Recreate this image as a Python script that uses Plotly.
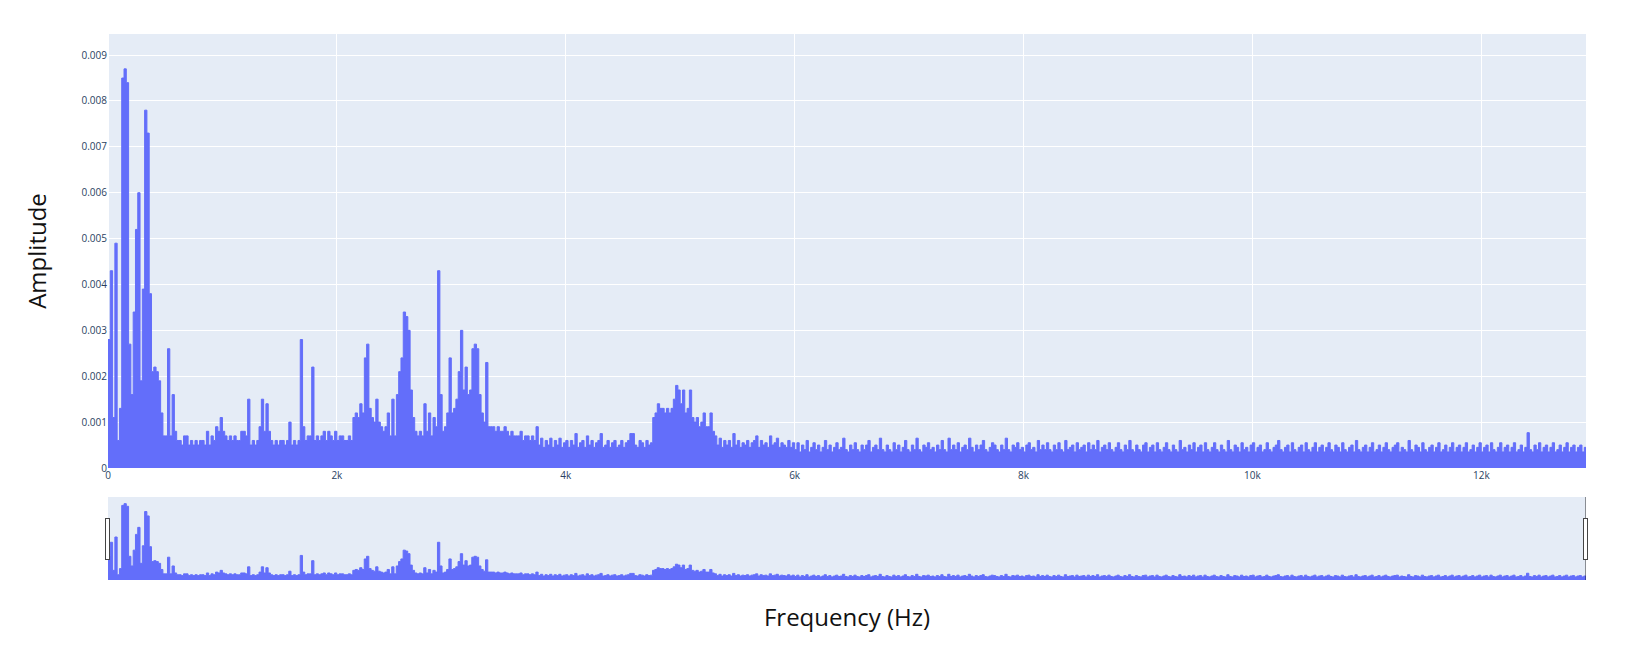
import plotly.graph_objects as go

# Spectrum: one amplitude value per 20 Hz bin, starting at 0 Hz
freq_start_hz = 0
freq_step_hz = 20

amplitude = [
    # 0 - 2000 Hz
    28e-4, 43e-4, 11e-4, 49e-4, 6e-4, 13e-4, 85e-4, 87e-4, 84e-4, 27e-4,
    16e-4, 34e-4, 52e-4, 60e-4, 19e-4, 39e-4, 78e-4, 73e-4, 38e-4, 21e-4,
    22e-4, 21e-4, 19e-4, 12e-4, 7e-4, 7e-4, 26e-4, 7e-4, 16e-4, 8e-4,
    6e-4, 6e-4, 5e-4, 7e-4, 7e-4, 5e-4, 6e-4, 5e-4, 6e-4, 5e-4,
    6e-4, 6e-4, 5e-4, 8e-4, 5e-4, 7e-4, 6e-4, 9e-4, 8e-4, 11e-4,
    8e-4, 7e-4, 6e-4, 7e-4, 6e-4, 7e-4, 6e-4, 6e-4, 8e-4, 8e-4,
    7e-4, 15e-4, 5e-4, 6e-4, 5e-4, 6e-4, 9e-4, 15e-4, 8e-4, 14e-4,
    8e-4, 6e-4, 5e-4, 6e-4, 5e-4, 6e-4, 6e-4, 5e-4, 6e-4, 10e-4,
    5e-4, 6e-4, 5e-4, 6e-4, 28e-4, 9e-4, 6e-4, 7e-4, 7e-4, 22e-4,
    6e-4, 7e-4, 6e-4, 7e-4, 8e-4, 6e-4, 8e-4, 7e-4, 6e-4, 8e-4,
    # 2000 - 4000 Hz
    6e-4, 7e-4, 7e-4, 6e-4, 6e-4, 7e-4, 6e-4, 11e-4, 12e-4, 11e-4,
    14e-4, 12e-4, 24e-4, 27e-4, 13e-4, 11e-4, 10e-4, 15e-4, 10e-4, 9e-4,
    8e-4, 9e-4, 12e-4, 7e-4, 15e-4, 7e-4, 16e-4, 21e-4, 24e-4, 34e-4,
    33e-4, 30e-4, 17e-4, 11e-4, 8e-4, 7e-4, 8e-4, 7e-4, 14e-4, 8e-4,
    12e-4, 7e-4, 11e-4, 9e-4, 43e-4, 16e-4, 8e-4, 9e-4, 12e-4, 24e-4,
    12e-4, 13e-4, 15e-4, 21e-4, 30e-4, 17e-4, 22e-4, 16e-4, 17e-4, 26e-4,
    27e-4, 26e-4, 16e-4, 12e-4, 10e-4, 23e-4, 9e-4, 9e-4, 9e-4, 8e-4,
    9e-4, 8e-4, 8e-4, 9e-4, 8e-4, 7e-4, 8e-4, 7e-4, 7e-4, 7e-4,
    8e-4, 6e-4, 7e-4, 7e-4, 6e-4, 7e-4, 6e-4, 9e-4, 5e-4, 6.5e-4,
    4.5e-4, 6e-4, 5e-4, 6.5e-4, 4.5e-4, 6e-4, 5e-4, 6.5e-4, 4.5e-4, 5.5e-4,
    # 4000 - 6000 Hz
    6e-4, 4.5e-4, 6e-4, 5e-4, 7.5e-4, 4.5e-4, 5.5e-4, 6e-4, 4.5e-4, 7e-4,
    5e-4, 6e-4, 4.5e-4, 5.5e-4, 6e-4, 7.5e-4, 4.5e-4, 5e-4, 6e-4, 4.5e-4,
    5.5e-4, 6e-4, 4.5e-4, 5e-4, 6e-4, 4.5e-4, 5.5e-4, 6e-4, 7.5e-4, 7.5e-4,
    5e-4, 4.5e-4, 6e-4, 5.5e-4, 4.5e-4, 6e-4, 5e-4, 5.5e-4, 11e-4, 12e-4,
    14e-4, 13e-4, 13e-4, 12e-4, 13e-4, 12e-4, 13e-4, 15e-4, 18e-4, 17e-4,
    14e-4, 17e-4, 12e-4, 13e-4, 17e-4, 11e-4, 10e-4, 11e-4, 9e-4, 10e-4,
    12e-4, 9e-4, 9e-4, 12e-4, 8e-4, 7e-4, 5e-4, 6.5e-4, 4.5e-4, 6e-4,
    5e-4, 6e-4, 4.5e-4, 7.5e-4, 5e-4, 6e-4, 4.5e-4, 5.5e-4, 5e-4, 6e-4,
    4.5e-4, 5.5e-4, 6e-4, 7e-4, 4.5e-4, 6e-4, 5e-4, 5.5e-4, 4.5e-4, 7e-4,
    5e-4, 5.5e-4, 6.5e-4, 4.5e-4, 5.5e-4, 5e-4, 4.5e-4, 6e-4, 4.5e-4, 5.5e-4,
    # 6000 - 8000 Hz
    4e-4, 5.5e-4, 3.5e-4, 5e-4, 4e-4, 6e-4, 3.5e-4, 4.5e-4, 5.5e-4, 4e-4,
    5e-4, 3.5e-4, 4.5e-4, 6e-4, 4e-4, 5e-4, 3.5e-4, 4.5e-4, 5.5e-4, 4e-4,
    4.5e-4, 6.5e-4, 4e-4, 3.5e-4, 5e-4, 4e-4, 5.5e-4, 4e-4, 3.5e-4, 5e-4,
    4e-4, 5e-4, 6e-4, 3.5e-4, 4.5e-4, 5e-4, 4e-4, 6.5e-4, 4e-4, 3.5e-4,
    5e-4, 4e-4, 3.5e-4, 5.5e-4, 4e-4, 5e-4, 3.5e-4, 4.5e-4, 6e-4, 4e-4,
    3.5e-4, 5e-4, 4e-4, 6.5e-4, 4e-4, 3.5e-4, 5e-4, 4.5e-4, 5.5e-4, 4e-4,
    4.5e-4, 3.5e-4, 5e-4, 4e-4, 6e-4, 4e-4, 3.5e-4, 6.5e-4, 4e-4, 5e-4,
    4e-4, 5.5e-4, 3.5e-4, 4.5e-4, 5e-4, 4e-4, 6.5e-4, 4.5e-4, 3.5e-4, 5e-4,
    4e-4, 5e-4, 6e-4, 4e-4, 3.5e-4, 4.5e-4, 5.5e-4, 5e-4, 4e-4, 3.5e-4,
    5e-4, 4e-4, 6.5e-4, 4e-4, 3.5e-4, 5e-4, 4.5e-4, 5.5e-4, 4e-4, 4.5e-4,
    # 8000 - 10000 Hz
    3.5e-4, 5e-4, 5.5e-4, 4e-4, 4.5e-4, 3.5e-4, 6e-4, 4e-4, 5e-4, 4e-4,
    5.5e-4, 4e-4, 3.5e-4, 5e-4, 4e-4, 5.5e-4, 4e-4, 3.5e-4, 6e-4, 4e-4,
    4.5e-4, 5e-4, 3.5e-4, 5.5e-4, 4e-4, 4.5e-4, 5e-4, 3.5e-4, 5.5e-4, 4e-4,
    5e-4, 4e-4, 6e-4, 3.5e-4, 4.5e-4, 5e-4, 4e-4, 5.5e-4, 4e-4, 3.5e-4,
    4.5e-4, 5.5e-4, 4e-4, 3.5e-4, 5e-4, 4e-4, 6e-4, 4e-4, 3.5e-4, 5e-4,
    4e-4, 3.5e-4, 5e-4, 5.5e-4, 3.5e-4, 4.5e-4, 5e-4, 3.5e-4, 5.5e-4, 4e-4,
    3.5e-4, 4.5e-4, 5.5e-4, 4e-4, 3.5e-4, 5e-4, 4e-4, 3.5e-4, 6e-4, 4e-4,
    4.5e-4, 3.5e-4, 5e-4, 4e-4, 5.5e-4, 3.5e-4, 4.5e-4, 5e-4, 3.5e-4, 5.5e-4,
    4e-4, 3.5e-4, 4.5e-4, 5.5e-4, 4e-4, 3.5e-4, 5e-4, 4e-4, 3.5e-4, 6e-4,
    4e-4, 3.5e-4, 5e-4, 4.5e-4, 3.5e-4, 5.5e-4, 4e-4, 4.5e-4, 3.5e-4, 5e-4,
    # 10000 - 12000 Hz
    5.5e-4, 3.5e-4, 4.5e-4, 5e-4, 3.5e-4, 4e-4, 5.5e-4, 4e-4, 3.5e-4, 4.5e-4,
    5e-4, 6e-4, 4e-4, 3.5e-4, 4.5e-4, 5e-4, 3.5e-4, 5.5e-4, 4e-4, 3.5e-4,
    4.5e-4, 5e-4, 3.5e-4, 5.5e-4, 4e-4, 3.5e-4, 4.5e-4, 5.5e-4, 3.5e-4, 4.5e-4,
    5e-4, 3.5e-4, 4.5e-4, 5.5e-4, 4e-4, 3.5e-4, 5e-4, 4.5e-4, 3.5e-4, 5.5e-4,
    4e-4, 3.5e-4, 4.5e-4, 5e-4, 3.5e-4, 6e-4, 4e-4, 3.5e-4, 4.5e-4, 5e-4,
    3.5e-4, 4.5e-4, 5.5e-4, 3.5e-4, 4e-4, 5e-4, 3.5e-4, 4.5e-4, 5.5e-4, 4e-4,
    3.5e-4, 4.5e-4, 5e-4, 5.5e-4, 3.5e-4, 4.5e-4, 4e-4, 3.5e-4, 6e-4, 4e-4,
    3.5e-4, 5e-4, 4.5e-4, 3.5e-4, 5.5e-4, 4e-4, 3.5e-4, 4.5e-4, 5e-4, 3.5e-4,
    4.5e-4, 5.5e-4, 3.5e-4, 4e-4, 5e-4, 3.5e-4, 4.5e-4, 5.5e-4, 3.5e-4, 4.5e-4,
    5e-4, 3.5e-4, 4.5e-4, 5.5e-4, 3.5e-4, 4e-4, 5e-4, 3.5e-4, 4.5e-4, 5.5e-4,
    # 12000 Hz - end
    3.5e-4, 4.5e-4, 5e-4, 3.5e-4, 5.5e-4, 4e-4, 3.5e-4, 4.5e-4, 5.5e-4, 3.5e-4,
    4.5e-4, 5e-4, 3.5e-4, 4.5e-4, 5.5e-4, 3.5e-4, 4e-4, 5e-4, 3.5e-4, 4.5e-4,
    7.7e-4, 4e-4, 3.5e-4, 5e-4, 4e-4, 5.5e-4, 3.5e-4, 4.5e-4, 5e-4, 3.5e-4,
    4.5e-4, 5.5e-4, 3.5e-4, 4e-4, 5e-4, 3.5e-4, 4.5e-4, 5.5e-4, 3.5e-4, 4.5e-4,
    5e-4, 3.5e-4, 4.5e-4, 5e-4, 3.5e-4, 4.5e-4, 4e-4,
]

x_range = [0, 12915]
y_range = [0, 0.00946]
x_tick_step = 2000
y_tick_step = 0.001

line_color = "#636efa"

fig = go.Figure(
    go.Scatter(
        y=amplitude,
        x0=freq_start_hz,
        dx=freq_step_hz,
        mode="lines",
        line=dict(color=line_color, width=1, shape="hv"),
        fill="tozeroy",
        fillcolor=line_color,
        showlegend=False,
    )
)

title_font = dict(family="Open Sans, sans-serif", size=24, color="#111111")

# the page body adds an 8 px offset at top-left, so the figure is 8 px smaller
fig.update_layout(
    template="plotly",
    width=1622,
    height=652,
    margin=dict(l=100, r=44, t=26, b=80),
    font=dict(family="Open Sans, sans-serif", size=10, color="#2a3f5f"),
    showlegend=False,
    xaxis=dict(
        range=x_range,
        dtick=x_tick_step,
        title=dict(text="Frequency (Hz)", font=title_font),
        rangeslider=dict(visible=True, thickness=0.152, bgcolor="#E5ECF6", borderwidth=0),
    ),
    yaxis=dict(
        range=y_range,
        dtick=y_tick_step,
        title=dict(text="Amplitude", font=title_font, standoff=28),
    ),
)

fig.write_html("out.html")
